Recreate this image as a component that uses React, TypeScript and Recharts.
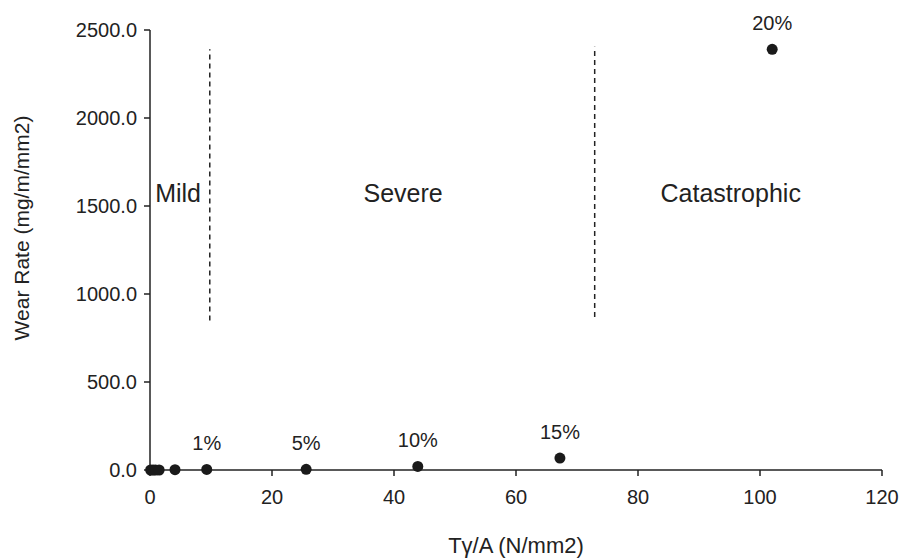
import {
  ReferenceDot,
  ReferenceLine,
  Scatter,
  ScatterChart,
  XAxis,
  YAxis,
  LabelList,
} from 'recharts'

const stressValues = [0.1, 0.5, 0.9, 1.5, 4.1, 9.3, 25.6, 43.9, 67.2, 102]
const wearValues = [0, 0, 0, 0, 2, 3, 4, 20, 68, 2390]
const pointLabels = ['', '', '', '', '', '1%', '5%', '10%', '15%', '20%']

const boundaryX = [9.8, 72.9]
const boundaryTop = [2390, 2405]
const boundaryBottom = [850, 870]

const zoneNames = ['Mild', 'Severe', 'Catastrophic']
const zoneX = [4.6, 41.5, 95.2]
const zoneY = [1575, 1575, 1575]

const xTicks = [0, 20, 40, 60, 80, 100, 120]
const yTicks = [0, 500, 1000, 1500, 2000, 2500]

const INK = '#222222'
const FONT = 'Liberation Sans, Arial, sans-serif'

const points = stressValues.map((stress, i) => ({
  stress,
  wear: wearValues[i],
  label: pointLabels[i],
}))

// slightly bigger dot than the default scatter symbol
const Dot = (props: any) => <circle cx={props.cx} cy={props.cy} r={5.5} fill="#1a1a1a" />

export default function App() {
  return (
    <div style={{ position: 'absolute', left: 0, top: 0, background: '#fff' }}>
      <ScatterChart
        width={909}
        height={558}
        margin={{ top: 30, right: 27, bottom: 0, left: 0 }}
        style={{ fontFamily: FONT }}
      >
        <XAxis
          type="number"
          dataKey="stress"
          domain={[0, 120]}
          ticks={xTicks}
          height={88}
          stroke={INK}
          strokeWidth={1.5}
          tickSize={6}
          tick={{ fill: INK, fontSize: 20 }}
          tickMargin={14}
          label={{
            value: 'Tγ/A (N/mm2)',
            position: 'insideBottom',
            offset: 5,
            fill: INK,
            fontSize: 22,
          }}
        />
        <YAxis
          type="number"
          dataKey="wear"
          domain={[0, 2500]}
          ticks={yTicks}
          width={150}
          stroke={INK}
          strokeWidth={1.5}
          tickSize={6}
          tick={{ fill: INK, fontSize: 20 }}
          tickMargin={7}
          tickFormatter={(v: number) => v.toFixed(1)}
          label={{
            value: 'Wear Rate (mg/m/mm2)',
            angle: -90,
            position: 'insideLeft',
            offset: 22,
            dy: -22,
            fill: INK,
            fontSize: 21,
            style: { textAnchor: 'middle' },
          }}
        />
        {boundaryX.map((x, i) => (
          <ReferenceLine
            key={`b${i}`}
            segment={[
              { x, y: boundaryBottom[i] },
              { x, y: boundaryTop[i] },
            ]}
            stroke={INK}
            strokeWidth={1.5}
            strokeDasharray="5 4"
          />
        ))}
        {zoneNames.map((name, i) => (
          <ReferenceDot
            key={name}
            x={zoneX[i]}
            y={zoneY[i]}
            r={0}
            stroke="none"
            label={{ value: name, position: 'center', fill: INK, fontSize: 25 }}
          />
        ))}
        <Scatter data={points} fill="#1a1a1a" isAnimationActive={false} shape={Dot}>
          <LabelList dataKey="label" position="top" offset={15} fill={INK} fontSize={20} />
        </Scatter>
      </ScatterChart>
    </div>
  )
}
